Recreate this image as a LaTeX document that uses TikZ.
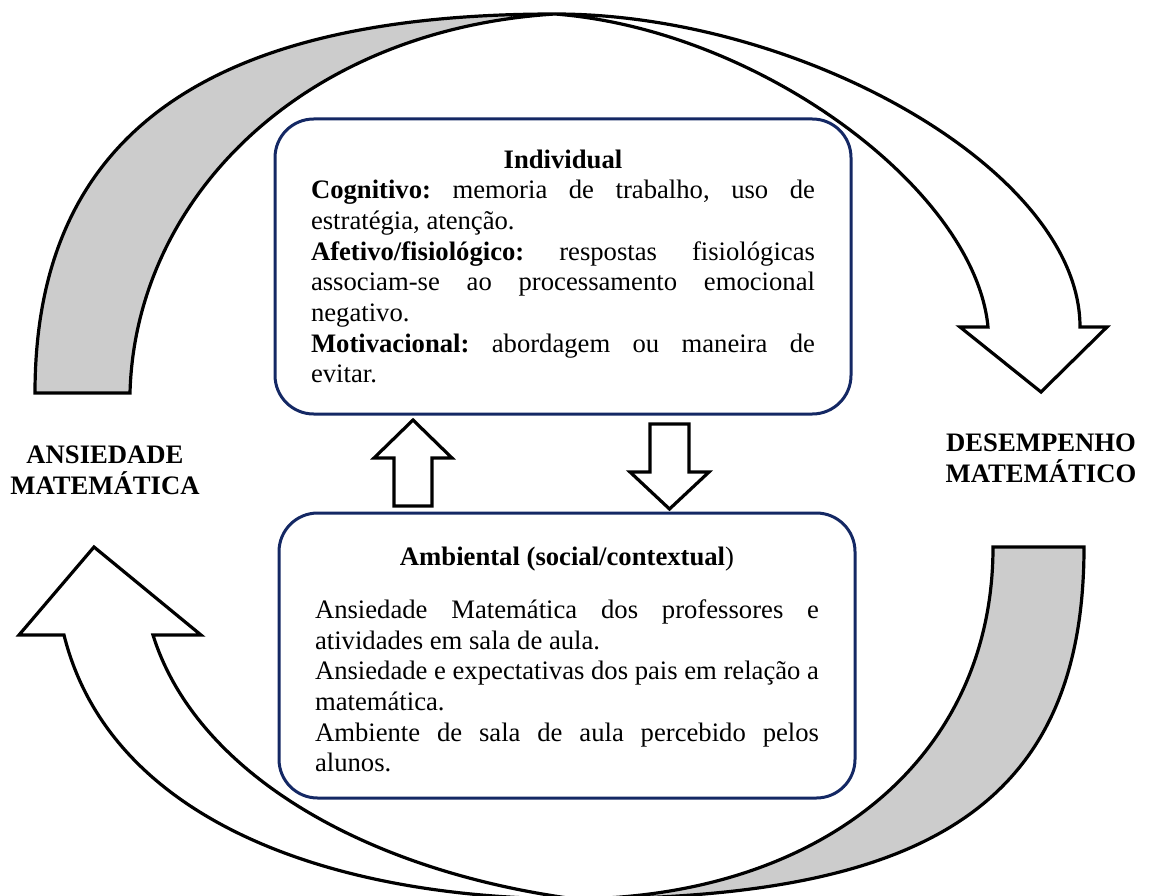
\documentclass[tikz,border=0pt]{standalone}
\usepackage{fontspec}
\setmainfont{Liberation Serif}
\setlength{\parindent}{0pt}
\tolerance=10000\relax
\hyphenpenalty=10000\relax
\frenchspacing
\definecolor{azulcaixa}{RGB}{20,40,100}
\definecolor{cinzaseta}{RGB}{204,204,204}
\tikzset{
  caixa/.style={draw=azulcaixa, line width=2.25pt, rounded corners=29pt, fill=white,
    text width=378pt, inner xsep=27pt, inner ysep=0pt, align=justify,
    minimum width=432pt, font=\fontsize{20pt}{23pt}\selectfont},
  seta/.style={draw=black, line width=2.4pt, line join=miter},
  rotulo/.style={align=center, font=\fontsize{20pt}{23pt}\selectfont\bfseries}
}
\begin{document}
\begin{tikzpicture}[x=0.75pt, y=-0.75pt]
      \useasboundingbox (0,0) rectangle (1151,895);
      \draw[seta, fill=cinzaseta] (35,393) .. controls (35,140) and (200,14) .. (555,14)
        .. controls (300,30) and (135,200) .. (130,393) -- cycle;
      \draw[seta, fill=white] (555,14) .. controls (800,14) and (1080,170) .. (1080,327)
        -- (1107,327) -- (1041,392) -- (960,327) -- (988,327)
        .. controls (975,190) and (760,30) .. (555,14) -- cycle;
      \draw[seta, fill=cinzaseta] (1084,547) .. controls (1084,810) and (920,899) .. (575,899)
        .. controls (820,897) and (993,760) .. (993,547) -- cycle;
      \draw[seta, fill=white] (575,899) .. controls (330,899) and (110,820) .. (64,635)
        -- (19,635) -- (94,547) -- (201,635) -- (153,635)
        .. controls (195,770) and (360,870) .. (575,899) -- cycle;
      \node[caixa, minimum height=221.25pt] (individual) at (563,266.5) {%
        {\centering\textbf{Individual}\par}
        \textbf{Cognitivo:} memoria de trabalho, uso de\linebreak estratégia, atenção.\par
        \textbf{Afetivo/fisiológico:} respostas fisiológicas\linebreak associam-se ao processamento emocional\linebreak negativo.\par
        \textbf{Motivacional:} abordagem ou maneira de\linebreak evitar.};
      \node[caixa, minimum height=213.75pt] (ambiental) at (567,655.5) {%
        {\centering\rule{0pt}{20pt}\textbf{Ambiental (social/contextual})\par}
        \vspace{16.75pt}
        Ansiedade Matemática dos professores e\linebreak atividades em sala de aula.\par
        Ansiedade e expectativas dos pais em relação a\linebreak matemática.\par
        Ambiente de sala de aula percebido pelos\linebreak alunos.};
      \draw[seta] (394,506) -- (394,458) -- (374,458) -- (413,420) -- (452,458) -- (432,458) -- (432,506) -- cycle;
      \draw[seta] (650,424) -- (689,424) -- (689,472) -- (709,472) -- (669.5,509) -- (630,472) -- (650,472) -- cycle;
      \node[rotulo] (ansiedade) at (105,470) {ANSIEDADE\\MATEMÁTICA};
      \node[rotulo] (desempenho) at (1041,458) {DESEMPENHO\\MATEMÁTICO};
\end{tikzpicture}
\end{document}
